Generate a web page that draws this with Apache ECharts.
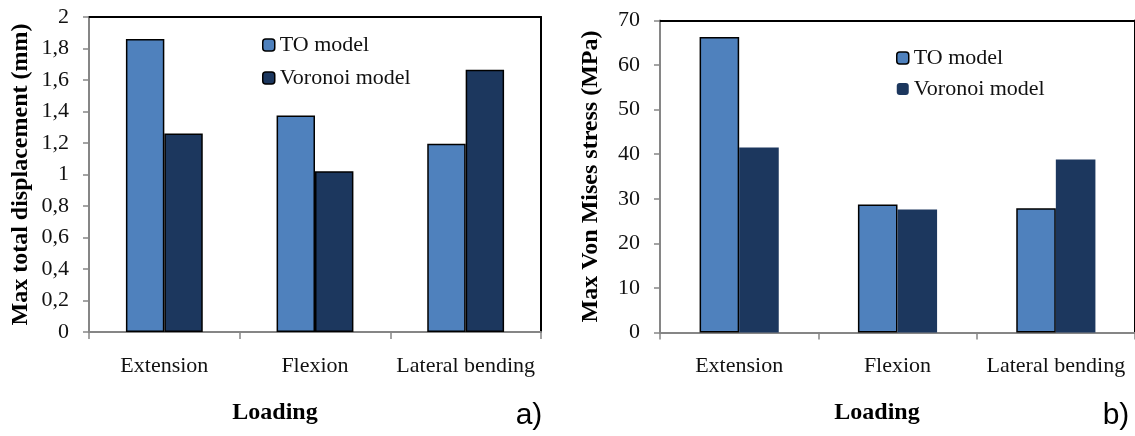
<!DOCTYPE html>
<html><head><meta charset="utf-8">
<script src="https://cdn.jsdelivr.net/npm/echarts@6/dist/echarts.min.js"></script>
<style>html,body{margin:0;padding:0;background:#fff}#c{width:1135px;height:436px}</style>
</head><body><div id="c"></div>
<script>
const categories = ['Extension', 'Flexion', 'Lateral bending'];
const seriesNames = ['TO model', 'Voronoi model'];
const dispTO = [1.86, 1.375, 1.196];
const dispVoronoi = [1.26, 1.02, 1.665];
const stressTO = [66.3, 28.7, 27.9];
const stressVoronoi = [41.5, 27.6, 38.8];
const dispTickLabels = ['0', '0,2', '0,4', '0,6', '0,8', '1', '1,2', '1,4', '1,6', '1,8', '2'];
const stressTickLabels = ['0', '10', '20', '30', '40', '50', '60', '70'];
const xTitle = 'Loading';
const yTitleA = 'Max total displacement (mm)';
const yTitleB = 'Max Von Mises stress (MPa)';
const panelTags = ['a)', 'b)'];

const C_TO = '#4F81BD';
const C_VOR = '#1C375E';
const AXIS_GRAY = '#868686';
const SERIF = '"Liberation Serif", "Times New Roman", serif';

function catAxis(gridIndex) {
  return {
    type: 'category', gridIndex, data: categories, position: 'bottom',
    axisLine: { onZero: false, lineStyle: { color: AXIS_GRAY, width: 2 } },
    axisTick: { show: true, alignWithLabel: false, interval: 0, length: 7, lineStyle: { color: AXIS_GRAY, width: 1.5 } },
    axisLabel: { interval: 0, margin: 23, color: '#111', fontFamily: SERIF, fontSize: 22 }
  };
}
function topBorder(gridIndex) {
  return {
    type: 'category', gridIndex, position: 'top', data: categories,
    axisLine: { show: true, onZero: false, lineStyle: { color: '#000', width: 2 } },
    axisTick: { show: false }, axisLabel: { show: false }, splitLine: { show: false }
  };
}
function valAxis(gridIndex, max, interval, labels, title, gap) {
  return {
    type: 'value', gridIndex, min: 0, max, interval, position: 'left',
    name: title, nameLocation: 'middle', nameGap: gap, nameRotate: 90,
    nameTextStyle: { fontFamily: SERIF, fontWeight: 'bold', fontSize: 24, color: '#000' },
    axisLine: { show: true, onZero: false, lineStyle: { color: AXIS_GRAY, width: 2 } },
    axisTick: { show: true, length: 6, lineStyle: { color: AXIS_GRAY, width: 1.5 } },
    axisLabel: { margin: 20, color: '#111', fontFamily: SERIF, fontSize: 22,
      formatter: v => labels[Math.round(v / interval)] },
    splitLine: { show: false }
  };
}
function rightBorder(gridIndex, max, interval) {
  return {
    type: 'value', gridIndex, position: 'right', min: 0, max, interval,
    axisLine: { show: true, onZero: false, lineStyle: { color: '#000', width: 2 } },
    axisTick: { show: false }, axisLabel: { show: false }, splitLine: { show: false }
  };
}

const option = {
  backgroundColor: '#fff',
  animation: false,
  grid: [
    { left: 89, top: 17, width: 452, height: 315 },
    { left: 660, top: 20.5, width: 483, height: 312 }
  ],
  xAxis: [catAxis(0), topBorder(0), catAxis(1), topBorder(1)],
  yAxis: [
    valAxis(0, 2, 0.2, dispTickLabels, yTitleA, 56),
    rightBorder(0, 2, 0.2),
    valAxis(1, 70, 10, stressTickLabels, yTitleB, 57),
    rightBorder(1, 70, 10)
  ],
  legend: [
    {
      orient: 'vertical', left: 262, top: 34, padding: 0, itemWidth: 12, itemHeight: 12, itemGap: 11,
      textStyle: { fontFamily: SERIF, fontSize: 22, color: '#111' },
      data: [
        { name: seriesNames[0], itemStyle: { color: C_TO, borderColor: '#000', borderWidth: 1.5 } },
        { name: seriesNames[1], itemStyle: { color: C_VOR, borderColor: '#000', borderWidth: 1.5 } }
      ]
    },
    {
      orient: 'vertical', left: 896, top: 47, padding: 0, itemWidth: 12, itemHeight: 12, itemGap: 9,
      textStyle: { fontFamily: SERIF, fontSize: 22, color: '#111' },
      data: [
        { name: seriesNames[0], itemStyle: { color: C_TO, borderColor: '#000', borderWidth: 1.5 } },
        { name: seriesNames[1], itemStyle: { color: C_VOR, borderWidth: 0 } }
      ]
    }
  ],
  series: [
    { name: seriesNames[0], type: 'bar', xAxisIndex: 0, yAxisIndex: 0, data: dispTO,
      barGap: '0%', barCategoryGap: '49%',
      itemStyle: { color: C_TO, borderColor: '#000', borderWidth: 1.5 } },
    { name: seriesNames[1], type: 'bar', xAxisIndex: 0, yAxisIndex: 0, data: dispVoronoi,
      barGap: '0%', barCategoryGap: '49%',
      itemStyle: { color: C_VOR, borderColor: '#000', borderWidth: 1.5 } },
    { name: seriesNames[0], type: 'bar', xAxisIndex: 2, yAxisIndex: 2, data: stressTO,
      barGap: '0%', barCategoryGap: '50%',
      itemStyle: { color: C_TO, borderColor: '#000', borderWidth: 1.5 } },
    { name: seriesNames[1], type: 'bar', xAxisIndex: 2, yAxisIndex: 2, data: stressVoronoi,
      barGap: '0%', barCategoryGap: '50%',
      itemStyle: { color: C_VOR, borderWidth: 0 } }
  ],
  graphic: [
    { type: 'text', x: 275, y: 413, style: { text: xTitle, fontFamily: SERIF, fontWeight: 'bold', fontSize: 24, fill: '#000', align: 'center', verticalAlign: 'middle' } },
    { type: 'text', x: 877, y: 413, style: { text: xTitle, fontFamily: SERIF, fontWeight: 'bold', fontSize: 24, fill: '#000', align: 'center', verticalAlign: 'middle' } },
    { type: 'text', x: 529, y: 416, style: { text: panelTags[0], fontFamily: '"Liberation Sans", Arial, sans-serif', fontSize: 30, fill: '#000', align: 'center', verticalAlign: 'middle' } },
    { type: 'text', x: 1116, y: 416, style: { text: panelTags[1], fontFamily: '"Liberation Sans", Arial, sans-serif', fontSize: 30, fill: '#000', align: 'center', verticalAlign: 'middle' } }
  ]
};
const chart = echarts.init(document.getElementById('c'), null, { renderer: 'canvas' });
chart.setOption(option);
</script>
</body></html>
